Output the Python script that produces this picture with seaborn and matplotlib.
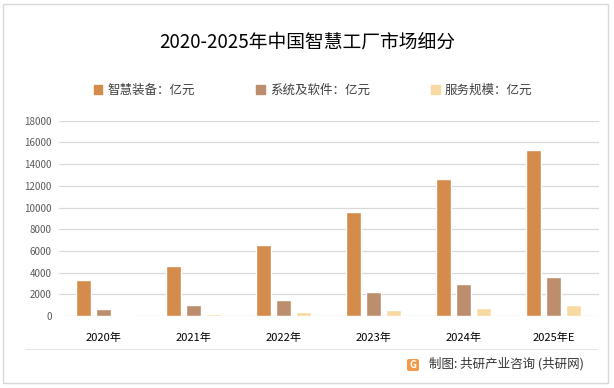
import matplotlib
matplotlib.use('Agg')
import matplotlib.pyplot as plt
import matplotlib.patches as mpatches
from matplotlib.lines import Line2D
import pandas as pd
import seaborn as sns

years = ['2020年', '2021年', '2022年', '2023年', '2024年', '2025年E']
series = ['智慧装备：亿元', '系统及软件：亿元', '服务规模：亿元']
equipment = [3330, 4650, 6550, 9600, 12620, 15300]
software = [650, 1040, 1500, 2210, 2950, 3600]
service = [120, 210, 400, 550, 740, 1040]
colors = ['#D38C4C', '#BC8E6D', '#F8D9A1']

df = pd.DataFrame({
    'year': years * 3,
    'series': [series[0]] * 6 + [series[1]] * 6 + [series[2]] * 6,
    'value': equipment + software + service,
})

sns.set_theme(style='white')
plt.rcParams['font.family'] = ['Noto Sans CJK SC', 'DejaVu Sans']

W, H = 614, 388
fig = plt.figure(figsize=(W / 100, H / 100), dpi=100)
ax = fig.add_axes([58.5 / W, (H - 316) / H, 540 / W, (316 - 120.7) / H])

sns.barplot(data=df, x='year', y='value', hue='series', order=years,
            hue_order=series, palette=colors, width=0.667, gap=0.25,
            saturation=1, ax=ax, legend=False)

ax.set_ylim(0, 18000)
ax.set_yticks(range(0, 18001, 2000))
ax.yaxis.grid(True, color='#D9D9D9', linewidth=0.9)
ax.set_axisbelow(True)
for s in ax.spines.values():
    s.set_visible(False)
ax.set_xlabel('')
ax.set_ylabel('')
ax.tick_params(axis='y', labelsize=7, colors='#595959', length=0, pad=5)
ax.tick_params(axis='x', labelsize=8, colors='#000000', length=0, pad=12)

# title
fig.text(307 / W, (H - 42) / H, '2020-2025年中国智慧工厂市场细分',
         ha='center', va='center', fontsize=13.5, color='#000000')

# legend
handles = [mpatches.Patch(color=c, label=s) for c, s in zip(colors, series)]
fig.legend(handles=handles, loc='center', bbox_to_anchor=(313 / W, (H - 90) / H),
           ncol=3, frameon=False, fontsize=9, handlelength=0.7, handleheight=0.7,
           handletextpad=0.4, columnspacing=4.9, labelcolor='#404040')

# separator and footer
fig.add_artist(Line2D([25 / W, 597 / W], [(H - 349) / H] * 2,
                      transform=fig.transFigure, color='#E6E6E6', linewidth=0.8))
fig.add_artist(mpatches.FancyBboxPatch((407 / W, (H - 371) / H), 12 / W, 12 / H,
                                       boxstyle='round,pad=0,rounding_size=0.004',
                                       transform=fig.transFigure,
                                       facecolor='#F39A4A', edgecolor='none'))
fig.text(413 / W, (H - 365) / H, 'G', ha='center', va='center', fontsize=7,
         color='white', fontweight='bold')
fig.text(429 / W, (H - 364) / H, '制图: 共研产业咨询 (共研网)', ha='left',
         va='center', fontsize=9, color='#333333')

# outer border
fig.add_artist(mpatches.Rectangle((3 / W, (H - 383) / H), 605 / W, 379 / H,
                                  transform=fig.transFigure, fill=False,
                                  edgecolor='#D9D9D9', linewidth=1))

fig.savefig('out.png', dpi=100)
